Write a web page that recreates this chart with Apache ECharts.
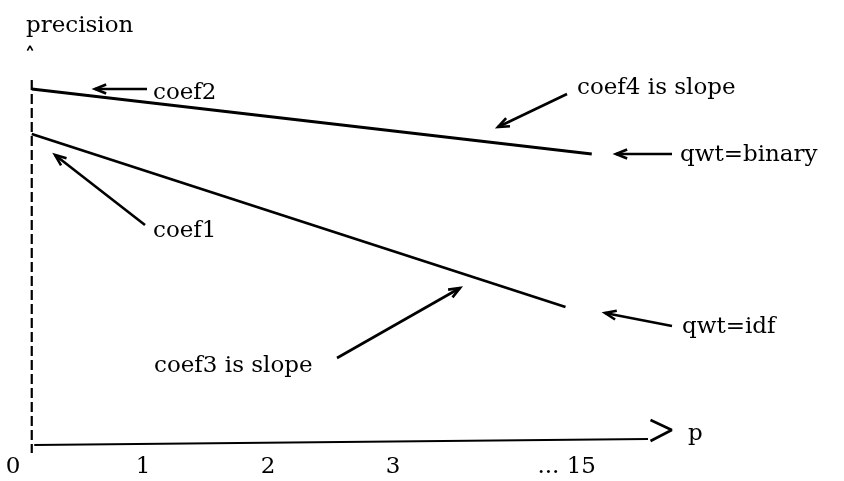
<!DOCTYPE html>
<html>
<head>
<meta charset="utf-8">
<script src="https://cdn.jsdelivr.net/npm/echarts@6/dist/echarts.min.js"></script>
<style>
    html, body { margin: 0; padding: 0; background: #fff; }
    #chart { width: 844px; height: 481px; }
</style>
</head>
<body>
<div id="chart"></div>
<script>
    // x is measured in "p" units, y in precision units (schematic, 0..105)
    const binaryLine = [[0.11, 89], [4.59, 72.75]]
    const idfLine = [[0.11, 77.75], [4.38, 34.5]]
    const precisionAxis = [[0.11, 91.25], [0.11, -2]]
    const pAxis = [[0.13, 0], [5.04, 1.5]]
    const pArrowHead = [[5.06, 6.25], [5.23, 3.75], [5.06, 1]]
    const caret = [[0.075, 98.6], [0.096, 99.8], [0.117, 98.6]]

    const xTickLabels = ['0', '1', '2', '3', '... 15']
    const xTickPos = [-0.04, 1, 2, 3, 4.39]
    const xTickY = -5.5

    const noteText = ['precision', 'coef2', 'coef1', 'coef3 is slope', 'coef4 is slope', 'qwt=binary', 'qwt=idf', 'p']
    const notePos = [[0.064, 104.75], [1.08, 88], [1.08, 53.5], [1.088, 19.75], [4.472, 89.25], [5.296, 72.5], [5.312, 29.5], [5.36, 2.75]]

    // arrows: tail -> head
    const arrowTail = [[1.032, 89], [1.016, 55], [2.552, 21.75], [4.392, 87.75], [5.232, 72.75], [5.232, 29.75]]
    const arrowHead = [[0.616, 89], [0.296, 72.5], [3.536, 39.25], [3.84, 79.5], [4.784, 72.75], [4.696, 33]]

    const ink = '#000'
    const font = '23px "DejaVu Serif"'

    const chart = echarts.init(document.getElementById('chart'))

    function lineSeries(data, width, type) {
        return {
            type: 'line',
            data: data,
            symbol: 'none',
            clip: false,
            silent: true,
            lineStyle: { color: ink, width: width, type: type || 'solid' }
        }
    }

    function renderArrow(params, api) {
        const tail = api.coord([api.value(0), api.value(1)])
        const head = api.coord([api.value(2), api.value(3)])
        const ang = Math.atan2(tail[1] - head[1], tail[0] - head[0])
        const len = 12, spread = 0.38
        const b1 = [head[0] + len * Math.cos(ang + spread), head[1] + len * Math.sin(ang + spread)]
        const b2 = [head[0] + len * Math.cos(ang - spread), head[1] + len * Math.sin(ang - spread)]
        const style = { stroke: ink, lineWidth: 2.6, fill: null }
        return {
            type: 'group',
            children: [
                { type: 'line', shape: { x1: tail[0], y1: tail[1], x2: head[0], y2: head[1] }, style: style },
                { type: 'polyline', shape: { points: [b1, head, b2] }, style: style }
            ]
        }
    }

    function textRenderer(texts, align) {
        return function (params, api) {
            const p = api.coord([api.value(0), api.value(1)])
            return {
                type: 'text',
                x: p[0],
                y: p[1],
                style: { text: texts[params.dataIndex], fill: ink, font: font, align: align, verticalAlign: 'middle' }
            }
        }
    }

    chart.setOption({
        animation: false,
        backgroundColor: '#fff',
        grid: { left: 18, top: 25, width: 750, height: 420 },
        xAxis: { type: 'value', min: 0, max: 6, show: false },
        yAxis: { type: 'value', min: 0, max: 105, show: false },
        series: [
            lineSeries(binaryLine, 2.8),
            lineSeries(idfLine, 2.8),
            lineSeries(precisionAxis, 2.2, [10, 4]),
            lineSeries(pAxis, 2.2),
            lineSeries(pArrowHead, 2.6),
            lineSeries(caret, 1.6),
            {
                type: 'custom',
                silent: true,
                renderItem: renderArrow,
                encode: { x: [0, 2], y: [1, 3] },
                data: arrowTail.map((t, i) => [t[0], t[1], arrowHead[i][0], arrowHead[i][1]])
            },
            {
                type: 'custom',
                silent: true,
                renderItem: textRenderer(noteText, 'left'),
                data: notePos
            },
            {
                type: 'custom',
                silent: true,
                renderItem: textRenderer(xTickLabels, 'center'),
                data: xTickPos.map(x => [x, xTickY])
            }
        ]
    })
</script>
</body>
</html>
